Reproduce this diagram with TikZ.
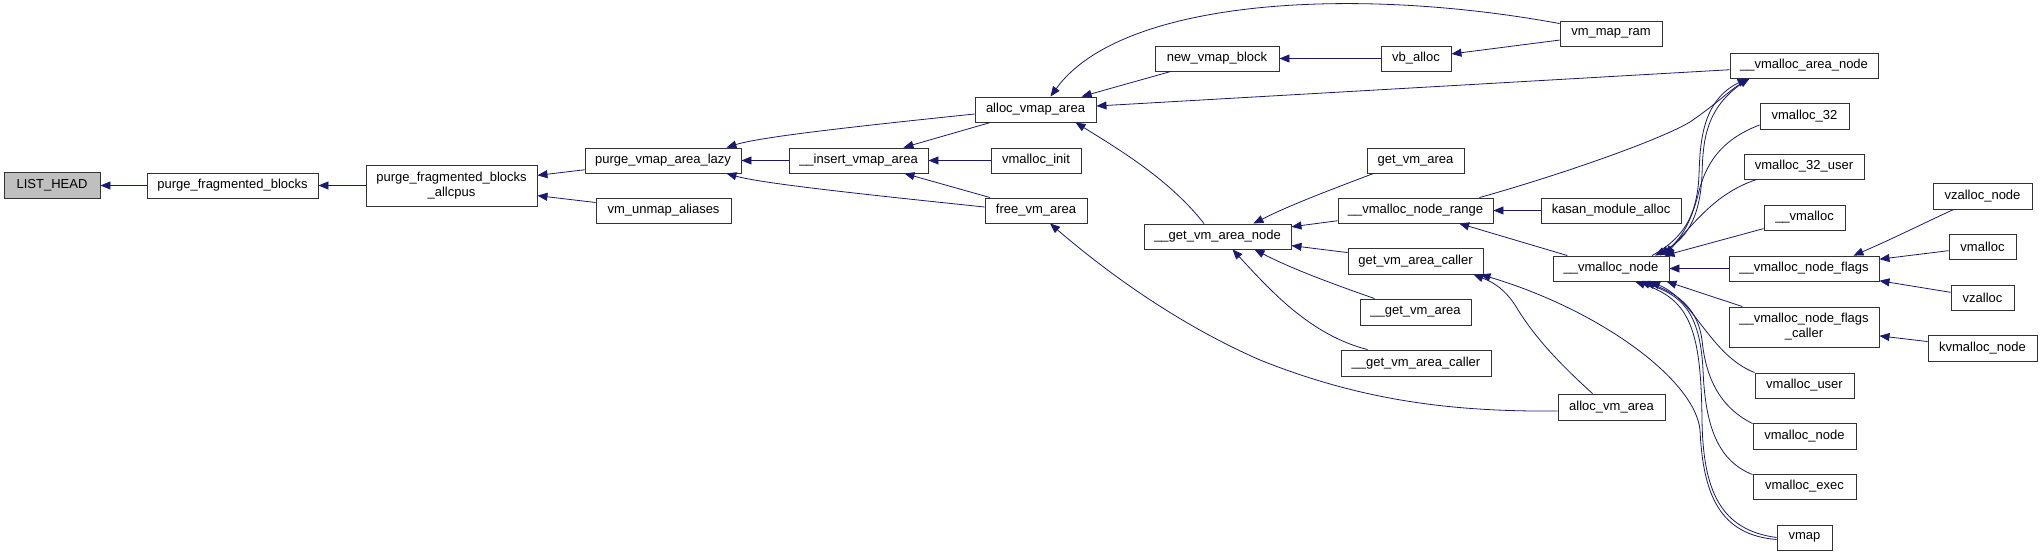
\documentclass[tikz,border=0pt]{standalone}
\usepackage{fontspec}
\setmainfont{Liberation Sans}
\usetikzlibrary{arrows.meta,calc}
\definecolor{edgeblue}{HTML}{191970}
\definecolor{boxline}{HTML}{333333}
\definecolor{headfill}{HTML}{BFBFBF}
\tikzset{
  fn/.style={draw=boxline, line width=0.9pt, fill=white, inner sep=0pt, align=center,
    font=\fontsize{13}{15}\selectfont, text=black},
  edge/.style={draw=edgeblue, line width=0.8pt, -{Triangle[length=10pt,width=8pt]}},
}
\newcommand{\fnode}[7]{\node[fn, minimum width=#4pt, minimum height=#5pt, #7] (#1) at (#2,#3) {#6};}
\begin{document}
\begin{tikzpicture}[x=1pt,y=-1pt]
\useasboundingbox (0,0) rectangle (2043,556);
% nodes
\fnode{LH}{52}{185.5}{96}{26}{LIST\_HEAD}{fill=headfill}
\fnode{pfb}{232.5}{185.5}{171}{25}{purge\_fragmented\_blocks}{}
\fnode{allcpus}{451.5}{185.5}{171}{41}{purge\_fragmented\_blocks\\\_allcpus}{}
\fnode{pval}{663}{160.5}{156}{25}{purge\_vmap\_area\_lazy}{}
\fnode{vua}{663.5}{210.5}{135}{25}{vm\_unmap\_aliases}{}
\fnode{ins}{858.5}{160.5}{139}{25}{\_\_insert\_vmap\_area}{}
\fnode{vinit}{1036}{160.5}{90}{25}{vmalloc\_init}{}
\fnode{fva}{1036}{210.5}{102}{25}{free\_vm\_area}{}
\fnode{ava}{1035.5}{109.5}{121}{25}{alloc\_vmap\_area}{}
\fnode{nvb}{1217}{58.5}{124}{25}{new\_vmap\_block}{}
\fnode{gvan}{1217.5}{236.5}{147}{25}{\_\_get\_vm\_area\_node}{}
\fnode{vba}{1416}{58.5}{70}{25}{vb\_alloc}{}
\fnode{vmr}{1611}{33.5}{102}{25}{vm\_map\_ram}{}
\fnode{gva}{1415.5}{160.5}{97}{25}{get\_vm\_area}{}
\fnode{vnr}{1415.5}{210.5}{155}{25}{\_\_vmalloc\_node\_range}{}
\fnode{kma}{1611}{210.5}{140}{25}{kasan\_module\_alloc}{}
\fnode{gvac}{1415.5}{261}{135}{26}{get\_vm\_area\_caller}{}
\fnode{ugva}{1415.5}{312}{111}{26}{\_\_get\_vm\_area}{}
\fnode{ugvac}{1416}{363}{150}{26}{\_\_get\_vm\_area\_caller}{}
\fnode{avma}{1611.5}{407}{107}{26}{alloc\_vm\_area}{}
\fnode{vn}{1611}{268.5}{116}{25}{\_\_vmalloc\_node}{}
\fnode{van}{1804}{65.5}{148}{25}{\_\_vmalloc\_area\_node}{}
\fnode{vtt}{1804.5}{116}{89}{26}{vmalloc\_32}{}
\fnode{vttu}{1804}{166.5}{120}{25}{vmalloc\_32\_user}{}
\fnode{uv}{1804.5}{217.5}{81}{25}{\_\_vmalloc}{}
\fnode{vnf}{1804}{268.5}{150}{25}{\_\_vmalloc\_node\_flags}{}
\fnode{vnfc}{1804}{327}{150}{40}{\_\_vmalloc\_node\_flags\\\_caller}{}
\fnode{vu}{1804.5}{385.5}{99}{25}{vmalloc\_user}{}
\fnode{vnode}{1804.5}{436}{103}{26}{vmalloc\_node}{}
\fnode{vexec}{1804.5}{486.5}{103}{25}{vmalloc\_exec}{}
\fnode{vmap}{1804.5}{537.5}{55}{25}{vmap}{}
\fnode{vzn}{1982.5}{196}{99}{26}{vzalloc\_node}{}
\fnode{vmal}{1982.5}{246.5}{67}{25}{vmalloc}{}
\fnode{vz}{1982.5}{297.5}{63}{25}{vzalloc}{}
\fnode{kvn}{1982.5}{348}{109}{26}{kvmalloc\_node}{}
% straight edges
\draw[edge] (pfb) -- (LH);
\draw[edge] (allcpus) -- (pfb);
\draw[edge] (pval) -- (allcpus);
\draw[edge] (vua) -- (allcpus);
\draw[edge] (ins) -- (pval);
\draw[edge] (ava) -- (ins);
\draw[edge] (vinit) -- (ins);
\draw[edge] (fva) -- (ins);
\draw[edge] (nvb) -- (ava);
\draw[edge] (van) -- (ava);
\draw[edge] (vba) -- (nvb);
\draw[edge] (vmr) -- (vba);
\draw[edge] (vnr) -- (gvan);
\draw[edge] (gvac) -- (gvan);
\draw[edge] (kma) -- (vnr);
\draw[edge] (vn) -- (vnr);
\draw[edge] (vnf) -- (vn);
\draw[edge] (uv) -- ($(vn.north east)+(-5,0)$);
\draw[edge] (vnfc) -- ($(vn.south east)+(-3,0)$);
\draw[edge] (vmal) -- (vnf);
\draw[edge] (vz) -- (vnf);
\draw[edge] (kvn) -- (vnfc);
% curved edges
\draw[edge] ($(ava.west)+(0,4.5)$) .. controls (850,127) and (760,137) .. ($(pval.north east)+(-15,0)$);
\draw[edge] ($(fva.west)+(0,-3.5)$) .. controls (850,193) and (760,183) .. ($(pval.south east)+(-15,0)$);
\draw[edge] ($(vmr.north west)+(0,3)$) .. controls (1350,-15) and (1120,0) .. ($(ava.north)+(15,0)$);
\draw[edge] ($(gvan.north)+(-13.5,0)$) .. controls (1170,180) and (1120,150) .. ($(ava.south)+(40,0)$);
\draw[edge] ($(avma.west)+(0,4)$) .. controls (1450,412) and (1360,400) .. (1260,360) .. controls (1180,325) and (1110,275) .. ($(fva.south)+(14,0)$);
\draw[edge] ($(gva.south west)+(7,0)$) .. controls (1330,190) and (1290,205) .. ($(gvan.north east)+(-38,0)$);
\draw[edge] ($(ugva.north west)+(15,0)$) .. controls (1330,283) and (1290,268) .. ($(gvan.south east)+(-37,0)$);
\draw[edge] ($(ugvac.north west)+(27,0)$) .. controls (1310,335) and (1270,290) .. ($(gvan.south)+(15,0)$);
\draw[edge] ($(vnr.north east)+(-14,0)$) .. controls (1560,175) and (1660,140) .. (1690,122) .. controls (1715,105) and (1730,90) .. ($(van.south west)+(20,0)$);
\draw[edge] ($(van.south west)+(20,0)$) .. controls (1705,105) and (1703,140) .. (1702,175) .. controls (1700,220) and (1685,240) .. ($(vn.north)+(44,0)$);
\draw[edge] ($(vn.north)+(41,0)$) .. controls (1680,240) and (1697,220) .. (1699,175) .. controls (1700,140) and (1703,100) .. ($(van.south west)+(18,0)$);
\draw[edge] ($(vtt.west)+(0,9)$) .. controls (1720,140) and (1705,165) .. (1698,195) .. controls (1690,225) and (1680,240) .. ($(vn.north)+(49,0)$);
\draw[edge] ($(vttu.south west)+(13,0)$) .. controls (1720,192) and (1700,215) .. ($(vn.north)+(54,0)$);
\draw[edge] (vu.north west) .. controls (1710,355) and (1695,300) .. ($(vn.south)+(39,0)$);
\draw[edge] ($(vnode.north west)+(0,1)$) .. controls (1715,405) and (1705,370) .. (1702,340) .. controls (1698,310) and (1680,295) .. ($(vn.south)+(34,0)$);
\draw[edge] ($(vexec.north west)+(0,1)$) .. controls (1715,460) and (1705,420) .. (1703,370) .. controls (1700,310) and (1680,295) .. ($(vn.south)+(29,0)$);
\draw[edge] (vmap.west) .. controls (1720,530) and (1703,490) .. (1702,420) .. controls (1701,330) and (1690,300) .. ($(vn.south)+(24,0)$);
\draw[edge] ($(vmap.west)+(0,2)$) .. controls (1720,535) and (1703,495) .. (1700,430) .. controls (1695,380) and (1600,310) .. ($(gvac.south east)+(-3,0)$);
\draw[edge] ($(avma.north)+(-19,0)$) .. controls (1550,355) and (1530,330) .. (1515,305) .. controls (1505,290) and (1495,283) .. ($(gvac.south east)+(-10,0)$);
\draw[edge] ($(vzn.south west)+(21,0)$) .. controls (1920,225) and (1890,240) .. ($(vnf.north east)+(-26,0)$);
\end{tikzpicture}
\end{document}
